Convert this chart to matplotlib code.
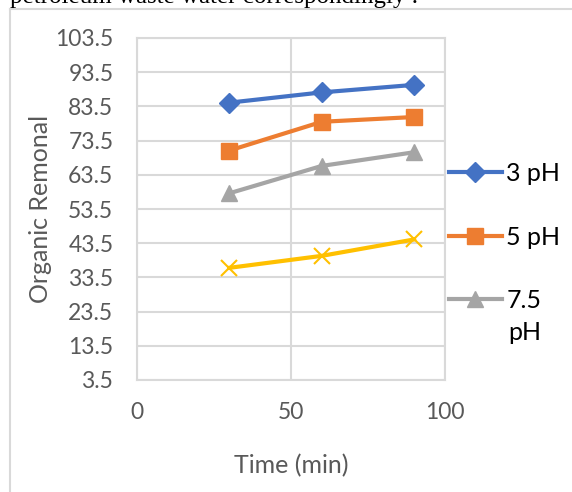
import matplotlib
matplotlib.use("Agg")
import matplotlib.pyplot as plt
from matplotlib.lines import Line2D

time_min = [30, 60, 90]
ph3 = [84.6, 87.6, 89.8]
ph5 = [70.6, 79.0, 80.4]
ph75 = [58.1, 66.1, 70.1]
yellow = [36.3, 39.8, 44.6]
labels = ["3 pH", "5 pH", "7.5"]
yticks = [3.5, 13.5, 23.5, 33.5, 43.5, 53.5, 63.5, 73.5, 83.5, 93.5, 103.5]
xticks = [0, 50, 100]

plt.rcParams['font.family'] = ['Lato', 'DejaVu Sans']

W, H = 572, 492
fig = plt.figure(figsize=(W / 100, H / 100), dpi=100)
ax = fig.add_axes([137 / W, 1 - 380 / H, (445 - 137) / W, (380 - 38) / H])

grid = '#d9d9d9'
lw = 3
ax.plot(time_min, ph3, color='#4472C4', lw=lw, marker='D', ms=10, label=labels[0])
ax.plot(time_min, ph5, color='#ED7D31', lw=lw, marker='s', ms=11, label=labels[1])
ax.plot(time_min, ph75, color='#A5A5A5', lw=lw, marker='^', ms=12, label=labels[2])
ax.plot(time_min, yellow, color='#FFC000', lw=lw, marker='x', ms=11, mew=1.5, label='_nolegend_')

ax.set_xlim(0, 100)
ax.set_ylim(3.5, 103.5)
ax.set_xticks(xticks)
ax.set_yticks(yticks)
ax.set_yticklabels([f"{v:.1f}" for v in yticks])
ax.grid(True, color=grid, lw=1.5)
ax.set_axisbelow(True)
for s in ax.spines.values():
    s.set_color(grid)
    s.set_linewidth(1.5)
ax.tick_params(length=0, labelsize=16.5, colors='#595959')
ax.tick_params(axis='y', pad=17)
ax.tick_params(axis='x', pad=16)
ax.set_xlabel('Time (min)', fontsize=18, color='#595959', labelpad=22)
ax.set_ylabel('Organic Remonal', fontsize=18, color='#595959', labelpad=2)

leg = ax.legend(loc='upper left', bbox_to_anchor=(449 / W, 1 - 162 / H), bbox_transform=fig.transFigure,
                frameon=False, fontsize=18, handlelength=2.1, handletextpad=0.2,
                labelspacing=1.62, borderpad=0, borderaxespad=0)
for t in leg.get_texts():
    t.set_color('#000000')
fig.text(508 / W, 1 - 333 / H, 'pH', fontsize=18, color='#000000', ha='left', va='center')

# chart frame
fig.add_artist(Line2D([10 / W, 10 / W], [0, 1 - 9 / H], color=grid, lw=1.5, transform=fig.transFigure))
fig.add_artist(Line2D([10 / W, 1], [1 - 9 / H, 1 - 9 / H], color=grid, lw=1.5, transform=fig.transFigure))

# clipped document text above
fig.text(10 / W, 1 - 3 / H, 'petroleum waste water correspondingly .', family='Liberation Serif',
         fontsize=18, va='baseline', ha='left', color='black')

fig.savefig('out.png', dpi=100)
